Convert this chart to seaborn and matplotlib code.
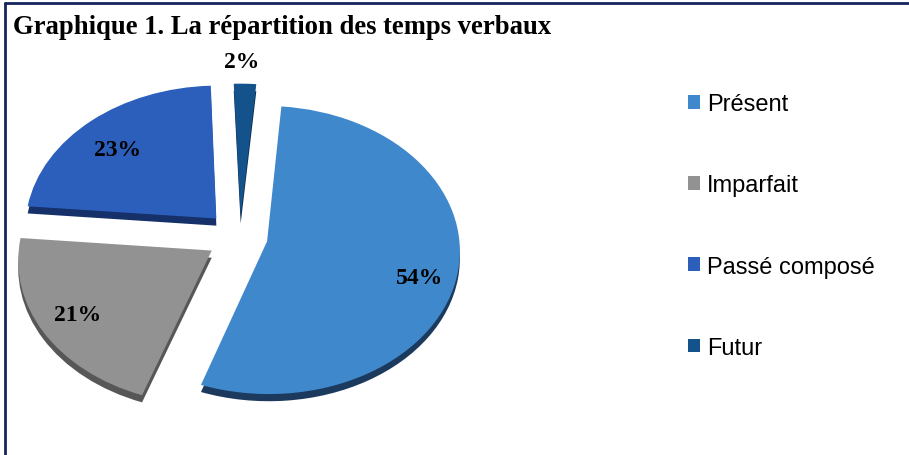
import numpy as np
import matplotlib
matplotlib.use("Agg")
import matplotlib.pyplot as plt
from matplotlib.patches import Patch, PathPatch
from matplotlib.path import Path
from matplotlib.lines import Line2D
import seaborn as sns

# Data
temps = ["Présent", "Imparfait", "Passé composé", "Futur"]
parts = [54, 21, 23, 2]

# Style
couleurs = ["#3F88CB", "#929292", "#2C5FBB", "#14528C"]
couleurs_ombre = ["#1B3A5E", "#575757", "#16306A", "#0B2E50"]
ecarts = [0.144, 0.174, 0.18, 0.146]
dist_etiq = [0.82, 0.80, 0.74, 1.175]
decal_etiq = [-5.5, 0, 3, 1.2]   # label angle tweak, degrees
PERSP = 0.06      # 3D tilt: top a bit smaller, front a bit larger
EPAIS = 0.05      # rim thickness

sns.set_theme(style="white")
plt.rcParams["font.family"] = ["Liberation Sans", "DejaVu Sans"]


def persp(xy):
    xy = np.atleast_2d(xy)
    k = 1 + PERSP * xy[:, 1]
    return np.column_stack([xy[:, 0] / k, xy[:, 1] / k])


W, H = 909, 456
fig = plt.figure(figsize=(W / 100, H / 100), dpi=100)
fig.patch.set_facecolor("white")

# pie area: x 0..480 px, y 30..456 px (screen), centre (240, 238), radii 192 x 143 px
ax = fig.add_axes([0, 0, 480 / W, 426 / H])

wedges, _, autotexts = ax.pie(
    parts, explode=ecarts, colors=couleurs, startangle=85, counterclock=False,
    autopct="%1.0f%%", wedgeprops=dict(linewidth=0),
    textprops=dict(family=["Liberation Serif", "DejaVu Serif"], fontsize=17,
                   fontweight="bold", color="black", zorder=5))

for w, t, d, da, c, co in zip(wedges, autotexts, dist_etiq, decal_etiq,
                              couleurs, couleurs_ombre):
    a = np.deg2rad((w.theta1 + w.theta2) / 2 + da)
    cx, cy = w.center
    t.set_position(tuple(persp([cx + d * np.cos(a), cy + d * np.sin(a)])[0]))
    path = w.get_path()
    v = persp(path.vertices)
    ax.add_patch(PathPatch(Path(v - [0, EPAIS], path.codes), facecolor=co,
                           edgecolor="none", zorder=1))
    ax.add_patch(PathPatch(Path(v, path.codes), facecolor=c,
                           edgecolor="none", zorder=2))
    w.set_visible(False)

ax.set_aspect("auto")
ax.set_xlim(-1.25, 1.25)
ax.set_ylim(-(456 - 238) / 143, (238 - 30) / 143)
ax.axis("off")

# legend
handles = [Patch(facecolor=c, edgecolor="none") for c in couleurs]
fig.legend(handles, temps, loc="upper left", bbox_to_anchor=(688 / W, 1 - 94 / H),
           frameon=False, fontsize=17, handlelength=0.52, handleheight=0.52,
           handletextpad=0.3, labelspacing=2.51, borderpad=0, borderaxespad=0,
           labelcolor="black")

# title
fig.text(13 / W, 1 - 34 / H, "Graphique 1. La répartition des temps verbaux",
         family=["Liberation Serif", "DejaVu Serif"], fontweight="bold",
         fontsize=19.2, color="black", ha="left", va="baseline")

# frame lines (top and left)
fig.add_artist(Line2D([5 / W, 5 / W], [0, 1 - 4 / H], color="#14245C", lw=2))
fig.add_artist(Line2D([5 / W, 1], [1 - 4 / H, 1 - 4 / H], color="#14245C", lw=2))

fig.savefig("out.png", dpi=100)
